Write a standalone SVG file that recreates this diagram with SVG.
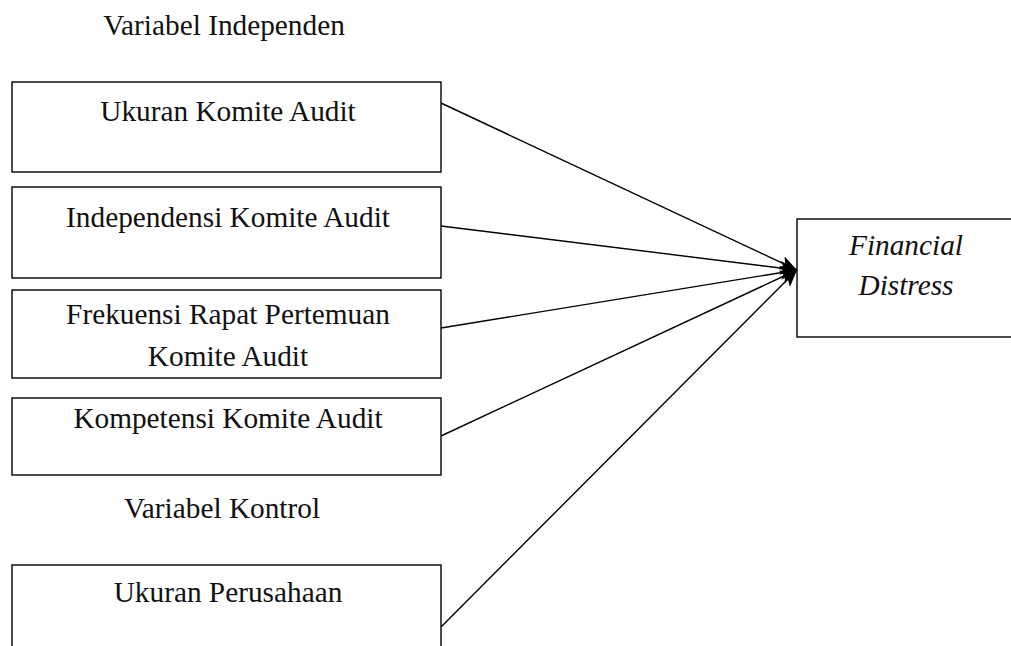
<svg xmlns="http://www.w3.org/2000/svg" width="1011" height="646" viewBox="0 0 1011 646">
<style>
  .box { fill: #ffffff; stroke: #000000; stroke-width: 1.4; }
  .t { font-family: "Liberation Serif", "Times New Roman", serif; font-size: 29.3px; fill: #111111; text-anchor: middle; }
  .it { font-style: italic; }
  .conn { stroke: #000000; stroke-width: 1.4; fill: none; marker-end: url(#ah); }
</style>
<defs>
  <marker id="ah" markerUnits="userSpaceOnUse" markerWidth="18" markerHeight="14" refX="17" refY="7" orient="auto">
    <path d="M0,0 L17,7 L0,14 L4,7 Z" fill="#000000"/>
  </marker>
</defs>
<rect width="1011" height="646" fill="#ffffff"/>
<text class="t" x="224" y="35">Variabel Independen</text>
<text class="t" x="222" y="518">Variabel Kontrol</text>
<g id="connectors">
  <line class="conn" x1="441" y1="103" x2="797" y2="270"/>
  <line class="conn" x1="441" y1="226" x2="797" y2="270"/>
  <line class="conn" x1="441" y1="328" x2="797" y2="270"/>
  <line class="conn" x1="441" y1="436" x2="797" y2="270"/>
  <line class="conn" x1="441" y1="627" x2="797" y2="270"/>
</g>
<g id="ukuran-komite">
  <rect class="box" x="12" y="82" width="429" height="90"/>
  <text class="t" x="228" y="121">Ukuran Komite Audit</text>
</g>
<g id="independensi">
  <rect class="box" x="12" y="187" width="429" height="91"/>
  <text class="t" x="228" y="227">Independensi Komite Audit</text>
</g>
<g id="frekuensi">
  <rect class="box" x="12" y="290" width="429" height="88"/>
  <text class="t" x="228" y="324">Frekuensi Rapat Pertemuan</text>
  <text class="t" x="228" y="366">Komite Audit</text>
</g>
<g id="kompetensi">
  <rect class="box" x="12" y="398" width="429" height="77"/>
  <text class="t" x="228" y="428">Kompetensi Komite Audit</text>
</g>
<g id="ukuran-perusahaan">
  <rect class="box" x="12" y="565" width="429" height="100"/>
  <text class="t" x="228" y="602">Ukuran Perusahaan</text>
</g>
<g id="financial-distress">
  <rect class="box" x="797" y="219" width="220" height="118"/>
  <text class="t it" x="906" y="255">Financial</text>
  <text class="t it" x="906" y="295">Distress</text>
</g>
</svg>
